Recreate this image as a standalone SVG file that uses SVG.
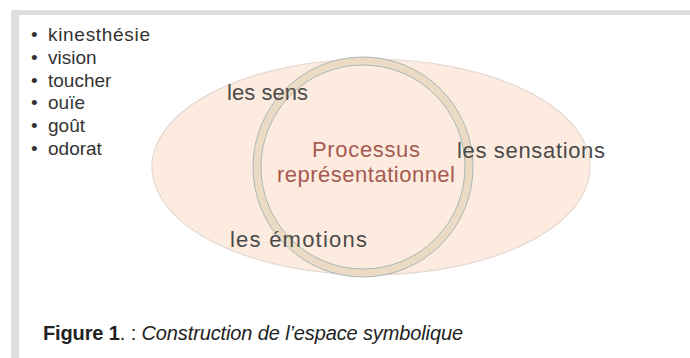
<svg xmlns="http://www.w3.org/2000/svg" width="690" height="358" viewBox="0 0 690 358">
<style>
.lst{font-family:"Liberation Sans",Arial,sans-serif;font-size:19px;fill:#333}
.lbl{font-family:"Liberation Sans",Arial,sans-serif;font-size:22px;fill:#4b4b4b}
.proc{font-family:"Liberation Sans",Arial,sans-serif;font-size:22px;fill:#a65a52}
.cap{font-family:"Liberation Sans",Arial,sans-serif;font-size:20px;fill:#222}
</style>
<rect x="0" y="0" width="690" height="358" fill="#ffffff"/>
<rect x="11" y="10" width="679" height="348" fill="#dedede"/>
<rect x="19" y="15" width="671" height="343" fill="#ffffff"/>
<g id="list">
<text class="lst" x="31" y="41">•</text><text class="lst" x="48" y="41" textLength="102">kinesthésie</text>
<text class="lst" x="31" y="64">•</text><text class="lst" x="48" y="64">vision</text>
<text class="lst" x="31" y="87">•</text><text class="lst" x="48" y="87">toucher</text>
<text class="lst" x="31" y="109">•</text><text class="lst" x="48" y="109">ouïe</text>
<text class="lst" x="31" y="132">•</text><text class="lst" x="48" y="132">goût</text>
<text class="lst" x="31" y="155">•</text><text class="lst" x="48" y="155">odorat</text>
</g>
<g id="ellipse">
<ellipse cx="371" cy="167" rx="219" ry="108" fill="#fdebdf" stroke="#e3d9d3" stroke-width="1.2"/>
</g>
<g id="circle">
<circle cx="363" cy="167" r="106" fill="none" stroke="#ecdbc4" stroke-width="8"/>
<circle cx="363" cy="167" r="110" fill="none" stroke="#a9b8b6" stroke-width="1"/>
<circle cx="363" cy="167" r="102" fill="none" stroke="#a9b8b6" stroke-width="1"/>
</g>
<g id="labels">
<text class="lbl" x="227" y="100" textLength="81">les sens</text>
<text class="lbl" x="457" y="158" textLength="148">les sensations</text>
<text class="lbl" x="230" y="247" textLength="137">les émotions</text>
<text class="proc" x="312" y="157" textLength="108">Processus</text>
<text class="proc" x="277" y="182" textLength="178">représentationnel</text>
</g>
<g id="caption">
<text class="cap" x="43" y="340" textLength="420"><tspan font-weight="bold">Figure 1</tspan>. : <tspan font-style="italic">Construction de l’espace symbolique</tspan></text>
</g>
</svg>
